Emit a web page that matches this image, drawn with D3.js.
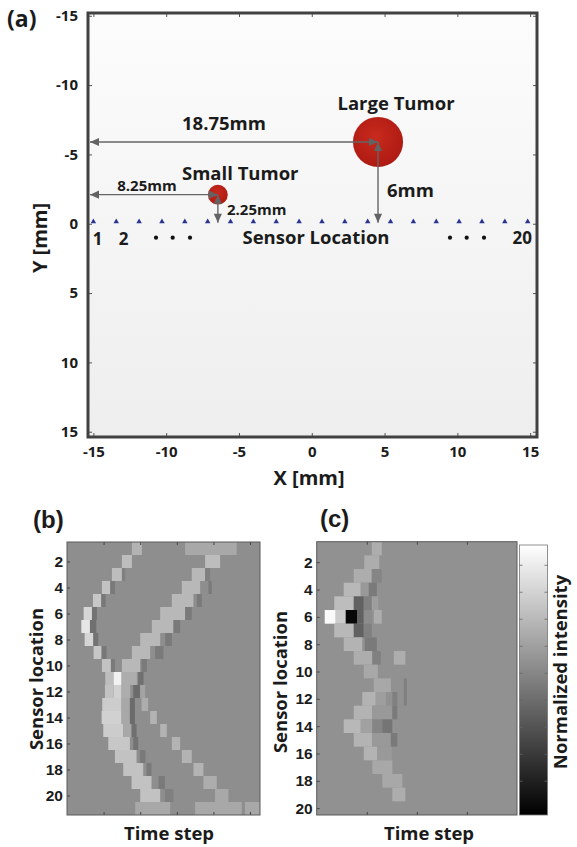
<!DOCTYPE html>
<html>
<head>
<meta charset="utf-8">
<script src="https://cdn.jsdelivr.net/npm/d3@7"></script>
<style>
  html, body { margin: 0; padding: 0; background: #fff; }
  svg { display: block; }
  .lab { font-family: "Open Sans", sans-serif; font-weight: 700; fill: #1b1b1b; }
  .num { font-family: "Liberation Sans", Arial, sans-serif; font-weight: 700; fill: #1b1b1b; }
</style>
</head>
<body>
<svg id="fig" width="577" height="847"></svg>
<script>
// ---------- geometry of the phantom (mm) ----------
const mmTicks = [-15, -10, -5, 0, 5, 10, 15];
const sensorX = [-15.0, -13.43, -11.86, -10.29, -8.72, -7.15, -5.58, -4.01, -2.44, -0.87,
                 0.70, 2.27, 3.84, 5.41, 6.98, 8.55, 10.12, 11.69, 13.26, 14.83];
const tumorNames = ["Large Tumor", "Small Tumor"];
const tumorX = [4.55, -6.45];
const tumorY = [-5.9, -2.1];
const tumorR = [1.72, 0.68];
const lateralLabels = ["18.75mm", "8.25mm"];
const depthLabels = ["6mm", "2.25mm"];

// ---------- sensor / time-step maps ----------
const sensorTicks = [2, 4, 6, 8, 10, 12, 14, 16, 18, 20];
const timeTicksB = [11, 22, 33, 44, 55];
const timeTicksC = [10, 20, 30];
const colorbarTicks = [0.125, 0.225, 0.325, 0.425, 0.525, 0.625, 0.725, 0.825, 0.925];

// received signals: [sensor, first step, last step, normalized intensity]
const rawCells = [
  [1, 19.5, 22.5, .70], [1, 35.5, 51, .66],
  [2, 16.5, 19.5, .74], [2, 41.5, 46, .74],
  [3, 13.5, 16.5, .74], [3, 16.5, 17.5, .50], [3, 37.5, 41.5, .72], [3, 41.5, 43, .50],
  [4, 10.5, 13, .76], [4, 13, 14.4, .48], [4, 34.5, 40, .72], [4, 42.5, 43.5, .48],
  [5, 7.8, 10.3, .78], [5, 10.3, 11.6, .47], [5, 31.5, 38, .72], [5, 39, 40.5, .48],
  [6, 5, 7.5, .84], [6, 7.5, 9, .45], [6, 28, 35.5, .72], [6, 35.5, 37.5, .48],
  [7, 4.3, 6.9, .90], [7, 6.9, 8.8, .44], [7, 25.5, 32, .72], [7, 32, 34, .48],
  [8, 5.3, 7.9, .84], [8, 7.9, 9.4, .45], [8, 22, 28, .72], [8, 29.5, 31.5, .48],
  [9, 8, 10.4, .78], [9, 10.4, 11.9, .47], [9, 19.5, 25, .72], [9, 26.5, 29, .48],
  [10, 10.5, 13.2, .76], [10, 13.2, 14.4, .48], [10, 16.5, 22, .72], [10, 22.4, 24, .48],
  [11, 11.5, 14, .74], [11, 14, 16.4, .95], [11, 16.4, 21, .68], [11, 21.4, 23, .44],
  [12, 11.4, 14, .76], [12, 14, 16.4, .82], [12, 16.4, 19, .68], [12, 19.9, 21.9, .42], [12, 22, 23.5, .64],
  [13, 10.6, 16.4, .80], [13, 16.4, 18.9, .66], [13, 18.9, 20.4, .42], [13, 22.4, 24.4, .68],
  [14, 10.4, 16.4, .82], [14, 16.4, 18.9, .66], [14, 18.9, 20.4, .42], [14, 25, 27, .70],
  [15, 10.9, 16.9, .80], [15, 16.9, 19.4, .66], [15, 19.4, 20.9, .44], [15, 28, 30, .70],
  [16, 12.4, 18.9, .78], [16, 19.9, 21.4, .45], [16, 31.5, 34, .70],
  [17, 14.4, 20.9, .76], [17, 21.9, 23.6, .48], [17, 34.5, 37.5, .70],
  [18, 16.9, 22.9, .76], [18, 23.9, 25.4, .48], [18, 38, 41, .70],
  [19, 19.4, 25.4, .76], [19, 27.5, 29.4, .48], [19, 41, 45, .68],
  [20, 22, 28, .76], [20, 29.4, 32, .50], [20, 44.5, 48.5, .66],
  [21, 20.5, 31, .66], [21, 38.5, 52.5, .66], [21, 53.5, 58, .66]
];

// after background removal: [sensor, first step, last step, normalized intensity]
const filteredCells = [
  [1, 11, 13, .68],
  [2, 9.5, 12.5, .68],
  [3, 7.4, 11, .68], [3, 11, 13, .52],
  [4, 5.4, 8.8, .72], [4, 8.8, 10.4, .60], [4, 10.4, 12, .48],
  [5, 3.5, 7.4, .74], [5, 7.4, 9.4, .38], [5, 9.4, 11, .50], [5, 11, 12.3, .62],
  [6, 1.6, 3.8, .98], [6, 3.8, 5.8, .80], [6, 5.8, 8.1, .03], [6, 8.1, 9.4, .38], [6, 9.4, 11, .55], [6, 11.4, 13, .68],
  [7, 3.5, 7.4, .72], [7, 7.4, 9.4, .38], [7, 9.4, 11, .50],
  [8, 5.4, 9.1, .70], [8, 9.6, 12, .48],
  [9, 7.4, 11.1, .68], [9, 11.1, 12.8, .50], [9, 15.4, 17.7, .68],
  [10, 9.4, 12.2, .66],
  [11, 11.4, 14.8, .66], [11, 17.4, 18, .50],
  [12, 9.1, 11.8, .70], [12, 11.8, 13.8, .62], [12, 15.1, 16.1, .50], [12, 17.4, 18, .50],
  [13, 7.4, 11.1, .70], [13, 11.1, 15.1, .60], [13, 15.1, 16.1, .48],
  [14, 5.4, 8.8, .72], [14, 8.8, 11.1, .63], [14, 11.1, 13.1, .52], [14, 13.1, 15.1, .46],
  [15, 7.4, 11.1, .70], [15, 11.1, 14.8, .60], [15, 14.8, 16.1, .48],
  [16, 9.4, 12.1, .70], [16, 12.1, 15, .60],
  [17, 11.1, 15.1, .66],
  [18, 13.1, 17.1, .66],
  [19, 15.1, 17.7, .68]
];
const backgroundB = 0.555;
const backgroundC = 0.57;

// ---------- drawing ----------
const svg = d3.select("#fig");
const defs = svg.append("defs");
const gray = d3.scaleLinear().domain([0, 1]).range(["#000000", "#ffffff"]).clamp(true);
const plain = d => String(d);   // keep ASCII hyphen for negative ticks

// ===== (a) phantom layout =====
const xA = d3.scaleLinear().domain([-15.37, 15.47]).range([88, 537]);
const yA = d3.scaleLinear().domain([-15.2, 15.38]).range([13, 437]);

const bgGrad = defs.append("linearGradient").attr("id", "bgA")
  .attr("x1", 0).attr("y1", 0).attr("x2", 0).attr("y2", 1);
bgGrad.append("stop").attr("offset", 0).attr("stop-color", "#fcfcfc");
bgGrad.append("stop").attr("offset", 1).attr("stop-color", "#eeeeee");

const tumorGrad = defs.append("radialGradient").attr("id", "tumor")
  .attr("cx", "45%").attr("cy", "40%").attr("r", "60%");
tumorGrad.append("stop").attr("offset", 0).attr("stop-color", "#c92a1e");
tumorGrad.append("stop").attr("offset", 1).attr("stop-color", "#ae1a12");

const marker = defs.append("marker").attr("id", "head")
  .attr("viewBox", "0 0 10 10").attr("refX", 10).attr("refY", 5)
  .attr("markerWidth", 10).attr("markerHeight", 9)
  .attr("markerUnits", "userSpaceOnUse").attr("orient", "auto-start-reverse");
marker.append("path").attr("d", "M0,0.5 L10,5 L0,9.5 Z").attr("fill", "#636363");

const gA = svg.append("g");
gA.append("rect")
  .attr("x", xA.range()[0]).attr("y", yA.range()[0])
  .attr("width", xA.range()[1] - xA.range()[0])
  .attr("height", yA.range()[1] - yA.range()[0])
  .attr("fill", "url(#bgA)");

// inward ticks on all four sides, labels on left and bottom
function styleAxis(sel, size) {
  sel.select(".domain").remove();
  sel.selectAll(".tick line").attr("stroke", "#555").attr("stroke-width", 1);
  sel.selectAll("text").attr("class", "lab").attr("font-size", size).attr("fill", "#1b1b1b");
}
gA.append("g").attr("transform", `translate(${xA.range()[0]},0)`)
  .call(d3.axisLeft(yA).tickValues(mmTicks).tickFormat(plain).tickSizeInner(-4).tickSizeOuter(0).tickPadding(10))
  .call(styleAxis, 15);
gA.append("g").attr("transform", `translate(${xA.range()[1]},0)`)
  .call(d3.axisRight(yA).tickValues(mmTicks).tickSizeInner(-4).tickSizeOuter(0).tickFormat(""))
  .call(styleAxis, 15);
gA.append("g").attr("transform", `translate(0,${yA.range()[1]})`)
  .call(d3.axisBottom(xA).tickValues(mmTicks).tickFormat(plain).tickSizeInner(-4).tickSizeOuter(0).tickPadding(9))
  .call(styleAxis, 15);
gA.append("g").attr("transform", `translate(0,${yA.range()[0]})`)
  .call(d3.axisTop(xA).tickValues(mmTicks).tickSizeInner(-4).tickSizeOuter(0).tickFormat(""))
  .call(styleAxis, 15);

gA.append("rect")
  .attr("x", xA.range()[0]).attr("y", yA.range()[0])
  .attr("width", xA.range()[1] - xA.range()[0])
  .attr("height", yA.range()[1] - yA.range()[0])
  .attr("fill", "none").attr("stroke", "#414141").attr("stroke-width", 3);

// tumors
gA.selectAll("circle.tumor").data(tumorNames).join("circle")
  .attr("class", "tumor")
  .attr("cx", (d, i) => xA(tumorX[i]))
  .attr("cy", (d, i) => yA(tumorY[i]))
  .attr("r", (d, i) => xA(tumorX[i] + tumorR[i]) - xA(tumorX[i]))
  .attr("fill", "url(#tumor)");

// sensors along y = 0
gA.selectAll("path.sensor").data(sensorX).join("path")
  .attr("class", "sensor")
  .attr("transform", d => `translate(${xA(d)},${yA(0) - 2})`)
  .attr("d", d3.symbol(d3.symbolTriangle, 13))
  .attr("fill", "#2a3592");

// dimension arrows: lateral offset from the left edge and depth above the sensor line
tumorNames.forEach((name, i) => {
  const cx = xA(tumorX[i]), cy = yA(tumorY[i]);
  gA.append("line")
    .attr("x1", xA.range()[0] + 2).attr("y1", cy).attr("x2", cx).attr("y2", cy)
    .attr("stroke", "#666").attr("stroke-width", 1.4)
    .attr("marker-start", "url(#head)").attr("marker-end", "url(#head)");
  gA.append("line")
    .attr("x1", cx).attr("y1", cy).attr("x2", cx).attr("y2", yA(0) - 1)
    .attr("stroke", "#666").attr("stroke-width", 1.4)
    .attr("marker-start", "url(#head)").attr("marker-end", "url(#head)");
});

// annotation text
const txtA = [
  [tumorNames[0], 396, 110, 18.5, "middle"],
  [tumorNames[1], 182, 180, 18.5, "start"],
  [lateralLabels[0], 224, 130, 18.5, "middle"],
  [lateralLabels[1], 147, 190.5, 15, "middle"],
  [depthLabels[0], 387, 196.5, 18.5, "start"],
  [depthLabels[1], 227, 215, 15, "start"],
  ["Sensor Location", 316, 243.5, 18.5, "middle"],
  ["1", 97.5, 245, 17, "middle"],
  ["2", 123.5, 245, 17, "middle"],
  ["20", 532, 244, 17, "end"],
  ["(a)", 7, 27, 23, "start"],
  ["X [mm]", 309, 485, 20, "middle"]
];
gA.selectAll("text.ann").data(txtA).join("text")
  .attr("class", "lab ann")
  .attr("x", d => d[1]).attr("y", d => d[2])
  .attr("font-size", d => d[3]).attr("text-anchor", d => d[4])
  .text(d => d[0]);
gA.append("text").attr("class", "lab")
  .attr("transform", "translate(47,238) rotate(-90)")
  .attr("text-anchor", "middle").attr("font-size", 20).text("Y [mm]");

// ellipsis dots between the numbered sensors
const dotsX = [156, 172.7, 190, 450, 466.7, 484];
gA.selectAll("circle.dot").data(dotsX).join("circle")
  .attr("class", "dot").attr("cx", d => d).attr("cy", 237.7).attr("r", 2.1).attr("fill", "#111");

// ===== (b) and (c) sensor-by-time maps =====
function heatmap(g, cells, x, y, bg, ticksT) {
  const [x0, x1] = x.range(), [y0, y1] = y.range();
  g.append("rect").attr("x", x0).attr("y", y0).attr("width", x1 - x0).attr("height", y1 - y0)
    .attr("fill", gray(bg));
  g.selectAll("rect.cell").data(cells).join("rect")
    .attr("class", "cell")
    .attr("x", d => x(d[1]))
    .attr("width", d => x(d[2]) - x(d[1]))
    .attr("y", d => y(d[0] - 0.5))
    .attr("height", d => y(d[0] + 0.5) - y(d[0] - 0.5))
    .attr("fill", d => gray(d[3]));
  const ax = g.append("g").attr("transform", `translate(${x0},0)`)
    .call(d3.axisLeft(y).tickValues(sensorTicks).tickSizeInner(-3).tickSizeOuter(0).tickPadding(4));
  ax.select(".domain").remove();
  ax.selectAll(".tick line").attr("stroke", "#444");
  ax.selectAll("text").attr("class", "num").attr("font-size", 15.5).attr("fill", "#1b1b1b");
  const bx = g.append("g").attr("transform", `translate(0,${y1})`)
    .call(d3.axisBottom(x).tickValues(ticksT).tickSizeInner(-3).tickSizeOuter(0).tickFormat(""));
  bx.select(".domain").remove();
  bx.selectAll(".tick line").attr("stroke", "#444");
  const tx = g.append("g").attr("transform", `translate(0,${y0})`)
    .call(d3.axisTop(x).tickValues(ticksT).tickSizeInner(-3).tickSizeOuter(0).tickFormat(""));
  tx.select(".domain").remove();
  tx.selectAll(".tick line").attr("stroke", "#444");
  g.append("rect").attr("x", x0).attr("y", y0).attr("width", x1 - x0).attr("height", y1 - y0)
    .attr("fill", "none").attr("stroke", "#5a5a5a").attr("stroke-width", 1);
}

const xB = d3.scaleLinear().domain([0, 58]).range([67, 260]);
const yB = d3.scaleLinear().domain([0.5, 21.5]).range([542, 815]);
const gB = svg.append("g");
heatmap(gB, rawCells, xB, yB, backgroundB, timeTicksB);
gB.append("text").attr("class", "num").attr("x", 33).attr("y", 528).attr("font-size", 24).text("(b)");
gB.append("text").attr("class", "lab").attr("x", 169).attr("y", 840)
  .attr("text-anchor", "middle").attr("font-size", 18.5).text("Time step");
gB.append("text").attr("class", "lab").attr("transform", "translate(43,679) rotate(-90)")
  .attr("text-anchor", "middle").attr("font-size", 18.5).text("Sensor location");

const xC = d3.scaleLinear().domain([0, 40]).range([316.7, 517]);
const yC = d3.scaleLinear().domain([0.5, 20.5]).range([541.7, 815]);
const gC = svg.append("g");
heatmap(gC, filteredCells, xC, yC, backgroundC, timeTicksC);
gC.append("text").attr("class", "num").attr("x", 320).attr("y", 527).attr("font-size", 24).text("(c)");
gC.append("text").attr("class", "lab").attr("x", 429).attr("y", 840)
  .attr("text-anchor", "middle").attr("font-size", 18.5).text("Time step");
gC.append("text").attr("class", "lab").attr("transform", "translate(286.5,682) rotate(-90)")
  .attr("text-anchor", "middle").attr("font-size", 18.5).text("Sensor location");

// colorbar
const cb = d3.scaleLinear().domain([0, 1]).range([815, 545]);
const cbGrad = defs.append("linearGradient").attr("id", "cbar")
  .attr("x1", 0).attr("y1", 1).attr("x2", 0).attr("y2", 0);
cbGrad.append("stop").attr("offset", 0).attr("stop-color", gray(0));
cbGrad.append("stop").attr("offset", 1).attr("stop-color", gray(1));
const cbX0 = 519.5, cbX1 = 547.5;
gC.append("rect").attr("x", cbX0).attr("y", cb(1)).attr("width", cbX1 - cbX0)
  .attr("height", cb(0) - cb(1)).attr("fill", "url(#cbar)")
  .attr("stroke", "#777").attr("stroke-width", 0.8);
gC.selectAll("line.cbl").data(colorbarTicks).join("line").attr("class", "cbl")
  .attr("x1", cbX0).attr("x2", cbX0 + 3).attr("y1", d => cb(d)).attr("y2", d => cb(d))
  .attr("stroke", "#666").attr("stroke-width", 0.8);
gC.selectAll("line.cbr").data(colorbarTicks).join("line").attr("class", "cbr")
  .attr("x1", cbX1 - 3).attr("x2", cbX1).attr("y1", d => cb(d)).attr("y2", d => cb(d))
  .attr("stroke", "#666").attr("stroke-width", 0.8);
gC.append("text").attr("class", "lab").attr("transform", "translate(567,672) rotate(-90)")
  .attr("text-anchor", "middle").attr("font-size", 18.5).text("Normalized intensity");
</script>
</body>
</html>
